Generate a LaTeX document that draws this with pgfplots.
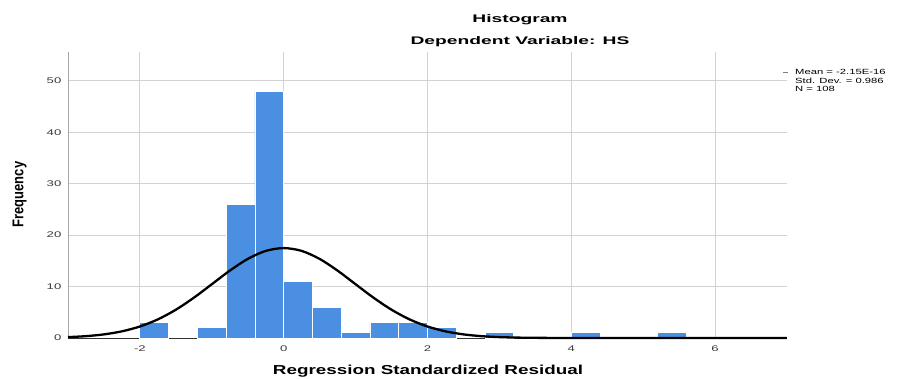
\documentclass[border=0pt]{standalone}
\usepackage{pgfplots}
\pgfplotsset{compat=1.18}
\usepackage{fontspec}
\setmainfont{Liberation Sans}
\definecolor{barblue}{HTML}{4B8FE2}
\definecolor{gridgray}{HTML}{D2D2D2}
\definecolor{ticktxt}{HTML}{383838}
\begin{document}
\begin{tikzpicture}
\begin{axis}[
  scale only axis, width=719pt, height=286pt,
  at={(0,0)}, anchor=south west,
  xmin=-3, xmax=7, ymin=0, ymax=55.6,
  axis x line=bottom, axis y line=left,
  axis line style={draw=gray!70, line width=0.9pt, -},
  x axis line style={draw=black!80},
  xtick={-2,0,2,4,6}, ytick={0,10,20,30,40,50},
  grid=major, major grid style={gridgray, line width=0.8pt},
  tick style={draw=none},
  xticklabel={\scalebox{1.6}[1]{\pgfmathprintnumber[assume math mode=true]{\tick}}},
  yticklabel={\scalebox{1.6}[1]{\pgfmathprintnumber[assume math mode=true]{\tick}}},
  ticklabel style={font=\fontsize{8.2}{9}\selectfont, text=ticktxt},
  xticklabel style={yshift=-2pt},
  yticklabel style={xshift=-1pt},
  clip=false,
]
\addplot[ybar interval, fill=barblue, draw=white, line width=0.8pt] coordinates {(-2.0,3) (-1.6,3)};
\addplot[ybar interval, fill=barblue, draw=white, line width=0.8pt] coordinates {
 (-1.2,2) (-0.8,26) (-0.4,48) (0.0,11) (0.4,6) (0.8,1) (1.2,3) (1.6,3) (2.0,2) (2.4,2)};
\addplot[ybar interval, fill=barblue, draw=white, line width=0.8pt] coordinates {(2.8,1) (3.2,1)};
\addplot[ybar interval, fill=barblue, draw=white, line width=0.8pt] coordinates {(4.0,1) (4.4,1)};
\addplot[ybar interval, fill=barblue, draw=white, line width=0.8pt] coordinates {(5.2,1) (5.6,1)};
\addplot[black, line width=2.3pt, smooth] table {
x y
-3.00 0.171
-2.75 0.358
-2.50 0.702
-2.25 1.294
-2.00 2.234
-1.75 3.619
-1.50 5.496
-1.25 7.826
-1.00 10.45
-0.75 13.09
-0.50 15.37
-0.25 16.93
0.00 17.48
0.25 16.93
0.50 15.37
0.75 13.09
1.00 10.45
1.25 7.826
1.50 5.496
1.75 3.619
2.00 2.234
2.25 1.294
2.50 0.702
2.75 0.358
3.00 0.171
3.25 0.077
3.50 0.032
3.75 0.013
4.00 0.005
4.50 0.0005
5.00 0
6.00 0
7.00 0
};
\end{axis}
\node[anchor=base] at (452pt,315.7pt) {\scalebox{1.75}[1]{\fontsize{11}{13}\selectfont\bfseries Histogram}};
\node[anchor=base] at (452pt,293.7pt) {\scalebox{1.75}[1]{\fontsize{11}{13}\selectfont\bfseries Dependent Variable: HS}};
\node[anchor=base] at (360pt,-36.7pt) {\scalebox{1.45}[1]{\fontsize{13}{15}\selectfont\bfseries Regression Standardized Residual}};
\node[anchor=base, rotate=90] at (-44.7pt,143.5pt) {\scalebox{1}[1.2]{\fontsize{13}{15}\selectfont\bfseries Frequency}};
\draw[gray, line width=0.6pt] (715pt,266pt) -- (720pt,266pt);
\node[anchor=base west, inner sep=0pt] at (727pt,263pt) {\scalebox{1.5}[1]{\fontsize{7.5}{9}\selectfont Mean = -2.15E-16}};
\node[anchor=base west, inner sep=0pt] at (727pt,254.5pt) {\scalebox{1.5}[1]{\fontsize{7.5}{9}\selectfont Std. Dev. = 0.986}};
\node[anchor=base west, inner sep=0pt] at (727pt,246pt) {\scalebox{1.5}[1]{\fontsize{7.5}{9}\selectfont N = 108}};
\pgfresetboundingbox
\path (-68pt,-41pt) rectangle (835pt,338pt);
\end{tikzpicture}
\end{document}
